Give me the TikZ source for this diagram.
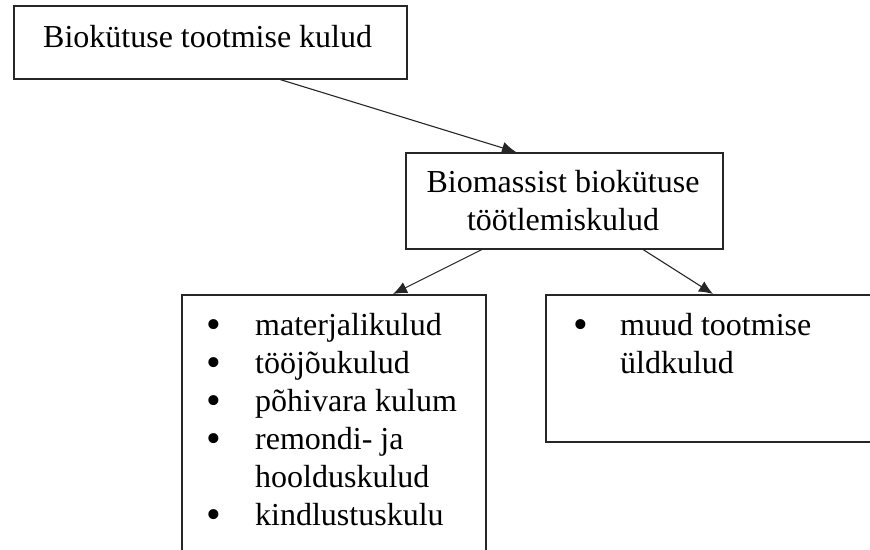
\documentclass[tikz,border=0pt]{standalone}
\usepackage{fontspec}
\setmainfont{Liberation Serif}
\usetikzlibrary{arrows.meta}

\newcommand{\tapp}{\smash{\raisebox{-3.5pt}{\fontsize{42}{30}\selectfont •}}}

\tikzset{
  kast/.style={draw=black!85, line width=1.5pt, inner sep=0pt, anchor=north west},
  nool/.style={draw=black!85, line width=1.1pt, -{Latex[length=14pt,width=12pt]}},
  tekst/.style={inner sep=0pt, font=\fontsize{32}{38}\selectfont}
}

\begin{document}
\begin{tikzpicture}[x=1pt, y=-1pt]
\useasboundingbox (0,0) rectangle (870,549);
\clip (0,0) rectangle (870,549);

% kastid
\node[kast, minimum width=393, minimum height=73] (kulud) at (13,5) {};
\node[kast, minimum width=317, minimum height=96] (tootlemine) at (405,152) {};
\node[kast, minimum width=304, minimum height=290] (otsesed) at (181,294) {};
\node[kast, minimum width=340, minimum height=147] (muud) at (545,294) {};

% tekstid
\node[tekst, anchor=base west] (kuludtekst) at (43,47) {Biokütuse tootmise kulud};
\node[tekst, anchor=base] (tootlemisetekst) at (563,192)
  {\begin{tabular}[t]{@{}c@{}}Biomassist biokütuse\\töötlemiskulud\end{tabular}};
\node[tekst, anchor=base west] (otsesedtekst) at (206,335)
  {\begin{tabular}[t]{@{}p{49pt}@{}l@{}}
  \tapp&materjalikulud\\
  \tapp&tööjõukulud\\
  \tapp&põhivara kulum\\
  \tapp&remondi- ja\\
  &hoolduskulud\\
  \tapp&kindlustuskulu
  \end{tabular}};
\node[tekst, anchor=base west] (muudtekst) at (573,335)
  {\begin{tabular}[t]{@{}p{47pt}@{}l@{}}
  \tapp&muud tootmise\\
  &üldkulud
  \end{tabular}};

% nooled
\draw[nool] ([xshift=267pt]kulud.south west) -- ([xshift=111pt]tootlemine.north west);
\draw[nool] ([xshift=77pt]tootlemine.south west) -- ([xshift=212pt]otsesed.north west);
\draw[nool] ([xshift=238pt]tootlemine.south west) -- ([xshift=168pt]muud.north west);

\end{tikzpicture}
\end{document}
